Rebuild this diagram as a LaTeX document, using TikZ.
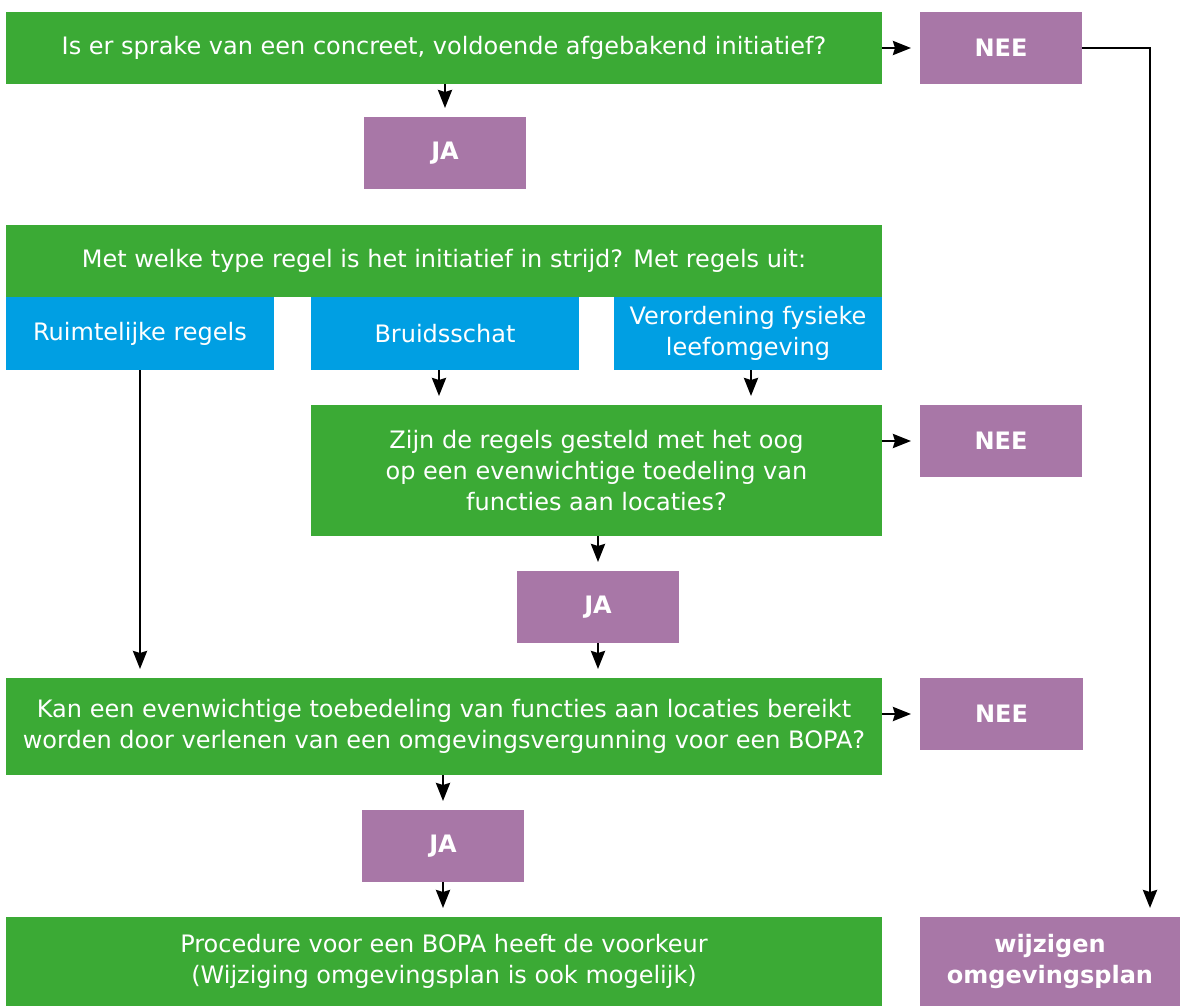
\documentclass[tikz,border=0pt]{standalone}
\usepackage{fontspec}
\setmainfont{DejaVu Sans}
\usetikzlibrary{arrows.meta,calc}
\definecolor{qgreen}{RGB}{59,170,53}
\definecolor{apurple}{RGB}{168,119,167}
\definecolor{cblue}{RGB}{0,159,227}
\begin{document}
\begin{tikzpicture}[x=1pt,y=-1pt,
  base/.style={inner sep=0pt, outer sep=0pt, text=white, align=center,
    font=\fontsize{24}{31}\selectfont},
  qbox/.style={base, fill=qgreen},
  abox/.style={base, fill=apurple, font=\fontsize{24}{31}\selectfont\bfseries},
  bbox/.style={base, fill=cblue},
  arr/.style={draw=black, line width=2.8pt, -{Stealth[length=18pt,width=14pt,inset=2pt]}, shorten >=9pt}
]
\useasboundingbox (0,0) rectangle (1180,1006);
% boxes
\node[qbox, minimum width=876pt, minimum height=72pt] (q1) at (444,48) {Is er sprake van een concreet, voldoende afgebakend initiatief?};
\node[abox, minimum width=162pt, minimum height=72pt] (nee1) at (1001,48) {NEE};
\node[abox, minimum width=162pt, minimum height=72pt] (ja1) at (445,153) {JA};
\node[qbox, minimum width=876pt, minimum height=72pt] (q2) at (444,261) {Met welke type regel is het initiatief in strijd? Met regels uit:};
\node[bbox, minimum width=268pt, minimum height=73pt] (ruim) at (140,333.5) {Ruimtelijke regels};
\node[bbox, minimum width=268pt, minimum height=73pt] (bruid) at (445,333.5) {Bruidsschat};
\node[bbox, minimum width=268pt, minimum height=73pt] (veror) at (748,333.5) {Verordening fysieke\\leefomgeving};
\node[qbox, minimum width=571pt, minimum height=131pt] (q3) at (596.5,470.5) {Zijn de regels gesteld met het oog\\op een evenwichtige toedeling van\\functies aan locaties?};
\node[abox, minimum width=162pt, minimum height=72pt] (nee2) at (1001,441) {NEE};
\node[abox, minimum width=162pt, minimum height=72pt] (ja2) at (598,607) {JA};
\node[qbox, minimum width=876pt, minimum height=97pt] (q4) at (444,726.5) {Kan een evenwichtige toebedeling van functies aan locaties bereikt\\worden door verlenen van een omgevingsvergunning voor een BOPA?};
\node[abox, minimum width=163pt, minimum height=72pt] (nee3) at (1001.5,714) {NEE};
\node[abox, minimum width=162pt, minimum height=72pt] (ja3) at (443,846) {JA};
\node[qbox, minimum width=876pt, minimum height=89pt] (fin) at (444,961.5) {Procedure voor een BOPA heeft de voorkeur\\(Wijziging omgevingsplan is ook mogelijk)};
\node[abox, minimum width=260pt, minimum height=89pt] (wijz) at (1050,961.5) {wijzigen\\omgevingsplan};
\coordinate (bend) at (1150,48);
% connectors
\draw[arr] (q1.east) -- (nee1.west);
\draw[arr] (q1.south -| ja1) -- (ja1.north);
\draw[arr] (nee1.east) -- (bend) -- (bend |- wijz.north);
\draw[arr] (ruim.south) -- (ruim.south |- q4.north);
\draw[arr] ([xshift=-6pt]bruid.south) -- ([xshift=-6pt]bruid.south |- q3.north);
\draw[arr] ([xshift=3pt]veror.south) -- ([xshift=3pt]veror.south |- q3.north);
\draw[arr] (q3.east |- nee2) -- (nee2.west);
\draw[arr] (q3.south -| ja2) -- (ja2.north);
\draw[arr] (ja2.south) -- (ja2.south |- q4.north);
\draw[arr] (q4.east |- nee3) -- (nee3.west);
\draw[arr] (q4.south -| ja3) -- (ja3.north);
\draw[arr] (ja3.south) -- (ja3.south |- fin.north);
\end{tikzpicture}
\end{document}
